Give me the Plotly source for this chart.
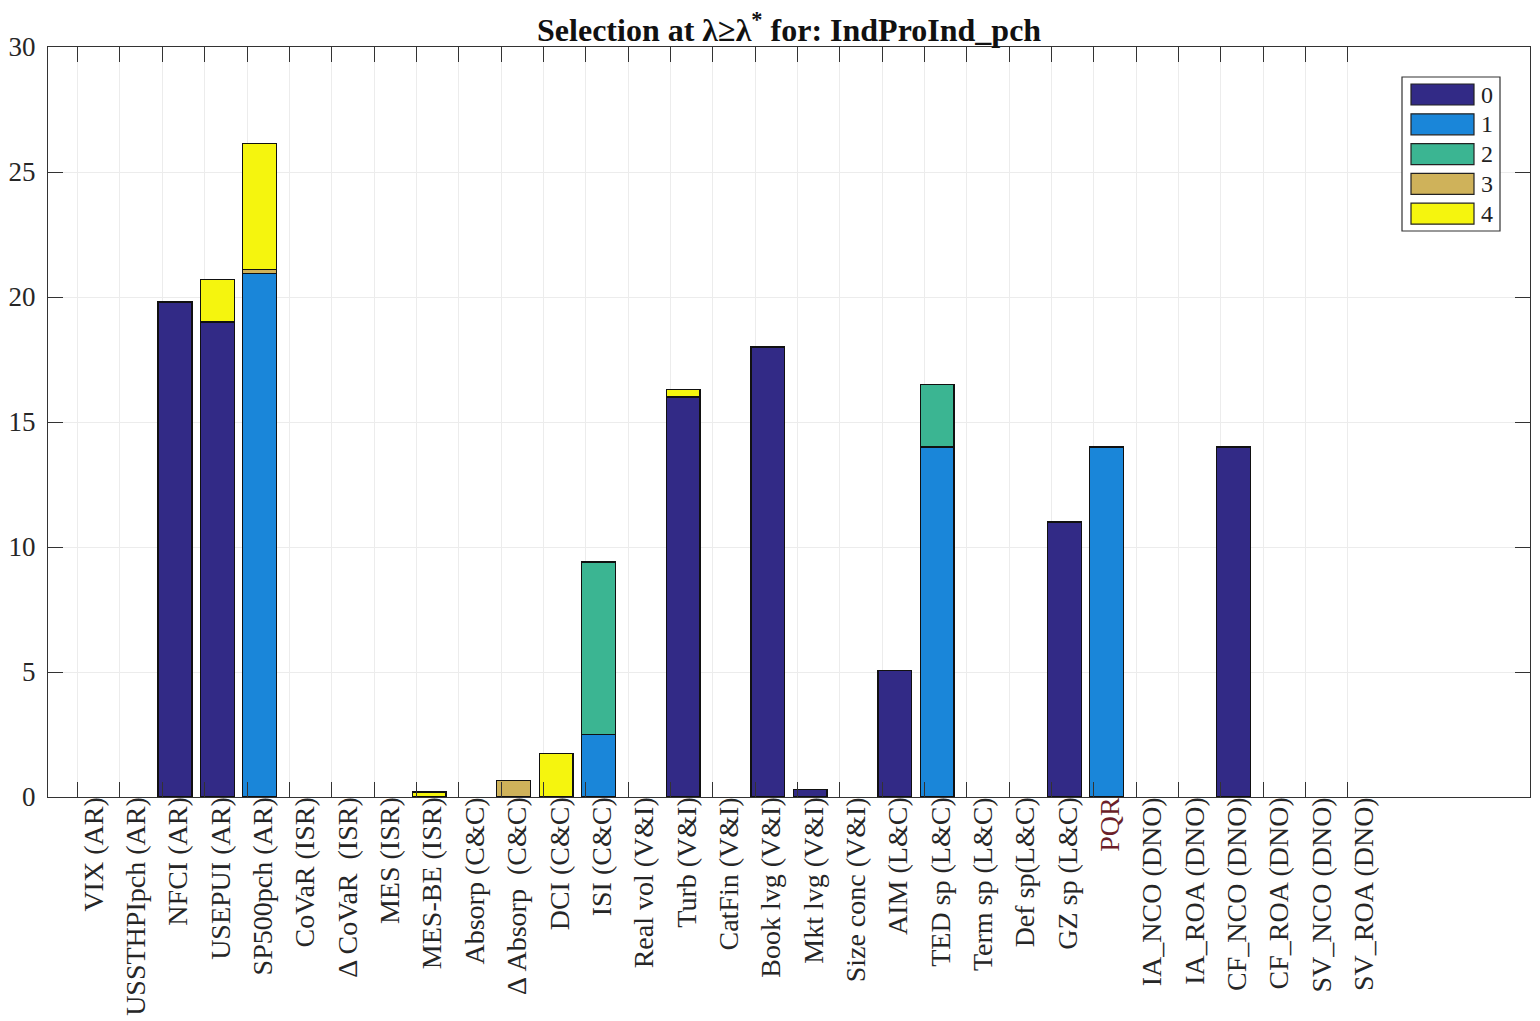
import plotly.graph_objects as go

# Indicator names (x categories)
categories = [
    "VIX (AR)", "USSTHPIpch (AR)", "NFCI (AR)", "USEPUI (AR)", "SP500pch (AR)",
    "CoVaR (ISR)", "Δ CoVaR  (ISR)", "MES (ISR)", "MES-BE (ISR)",
    "Absorp (C&C)", "Δ Absorp  (C&C)", "DCI (C&C)", "ISI (C&C)",
    "Real vol (V&I)", "Turb (V&I)", "CatFin (V&I)", "Book lvg (V&I)",
    "Mkt lvg (V&I)", "Size conc (V&I)", "AIM (L&C)", "TED sp (L&C)",
    "Term sp (L&C)", "Def sp(L&C)", "GZ sp (L&C)", "PQR",
    "IA_NCO (DNO)", "IA_ROA (DNO)", "CF_NCO (DNO)", "CF_ROA (DNO)",
    "SV_NCO (DNO)", "SV_ROA (DNO)",
]

# Selection counts per lag (stacked)
lag0 = [0, 0, 19.8, 19.0, 0, 0, 0, 0, 0, 0, 0, 0, 0, 0, 16.0, 0, 18.0, 0.3, 0,
        5.05, 0, 0, 0, 11.0, 0, 0, 0, 14.0, 0, 0, 0]
lag1 = [0, 0, 0, 0, 20.95, 0, 0, 0, 0, 0, 0, 0, 2.5, 0, 0, 0, 0, 0, 0,
        0, 14.0, 0, 0, 0, 14.0, 0, 0, 0, 0, 0, 0]
lag2 = [0, 0, 0, 0, 0, 0, 0, 0, 0, 0, 0, 0, 6.9, 0, 0, 0, 0, 0, 0,
        0, 2.5, 0, 0, 0, 0, 0, 0, 0, 0, 0, 0]
lag3 = [0, 0, 0, 0, 0.15, 0, 0, 0, 0, 0, 0.65, 0, 0, 0, 0, 0, 0, 0, 0,
        0, 0, 0, 0, 0, 0, 0, 0, 0, 0, 0, 0]
lag4 = [0, 0, 0, 1.7, 5.05, 0, 0, 0, 0.2, 0, 0, 1.75, 0, 0, 0.3, 0, 0, 0, 0,
        0, 0, 0, 0, 0, 0, 0, 0, 0, 0, 0, 0]

series_names = ["0", "1", "2", "3", "4"]
series_values = [lag0, lag1, lag2, lag3, lag4]
series_colors = ["#322a86", "#1a86d9", "#3bb592", "#cfb25a", "#f5f50e"]

y_ticks = [0, 5, 10, 15, 20, 25, 30]

FONT = "Liberation Serif"
positions = list(range(1, len(categories) + 1))

fig = go.Figure()
for name, vals, col in zip(series_names, series_values, series_colors):
    # empty segments are left out so they draw no outline
    fig.add_trace(go.Bar(
        x=positions, y=[v if v else None for v in vals], name=name, width=0.8,
        marker=dict(color=col, line=dict(color="#111111", width=1.3)),
        showlegend=False,
    ))

tick_text = [
    f"<span style='color:#6b1f2a'>{c}</span>" if c == "PQR" else c
    for c in categories
]

fig.update_layout(
    width=1540, height=1021,
    margin=dict(l=48, r=10, t=47, b=224),
    paper_bgcolor="white", plot_bgcolor="white",
    barmode="stack",
    font=dict(family=FONT, color="#262626"),
    title=dict(
        text="<b>Selection at λ≥λ<sup>*</sup> for: IndProInd_pch</b>",
        x=0.5124, xanchor="center", y=0.971, yanchor="middle",
        yref="container",
        font=dict(family=FONT, size=32, color="#111111"),
    ),
    xaxis=dict(
        range=[0, 35],
        automargin=False,
        tickmode="array",
        tickvals=[p - 0.3 for p in positions],
        ticktext=tick_text,
        tickangle=-90,
        ticklabelshift=16,
        ticklabelstandoff=-12,
        tickfont=dict(family=FONT, size=28, color="#262626"),
        ticks="inside", ticklen=15, tickcolor="#333333", tickwidth=1.2,
        showgrid=True, gridcolor="#ececec", gridwidth=1,
        showline=True, linecolor="#333333", linewidth=1.2, mirror="ticks",
        zeroline=False,
    ),
    yaxis=dict(
        range=[0, 30],
        automargin=False,
        tickmode="array", tickvals=y_ticks,
        tickfont=dict(family=FONT, size=27, color="#262626"),
        ticks="inside", ticklen=15, tickcolor="#333333", tickwidth=1.2,
        ticklabelstandoff=6,
        showgrid=True, gridcolor="#ececec", gridwidth=1,
        showline=True, linecolor="#333333", linewidth=1.2, mirror="ticks",
        zeroline=False,
    ),
)

# Legend box with wide colour patches, in pixel-derived paper coordinates
PL, PR, PT, PB = 48, 1530, 47, 797


def px(xp):
    return (xp - PL) / (PR - PL)


def py(yp):
    return (PB - yp) / (PB - PT)


fig.add_shape(type="rect", xref="paper", yref="paper",
              x0=px(1402), x1=px(1500), y0=py(231), y1=py(77),
              line=dict(color="#333333", width=1.2), fillcolor="white")
for i, (name, col) in enumerate(zip(series_names, series_colors)):
    top = 84 + i * 29.8
    fig.add_shape(type="rect", xref="paper", yref="paper",
                  x0=px(1411), x1=px(1474), y0=py(top + 21), y1=py(top),
                  line=dict(color="#222222", width=1.2), fillcolor=col)
    fig.add_annotation(xref="paper", yref="paper", x=px(1479), y=py(top + 10.5),
                       text=name, showarrow=False, xanchor="left", yanchor="middle",
                       font=dict(family=FONT, size=24, color="#222222"))

fig.write_html("out.html")
